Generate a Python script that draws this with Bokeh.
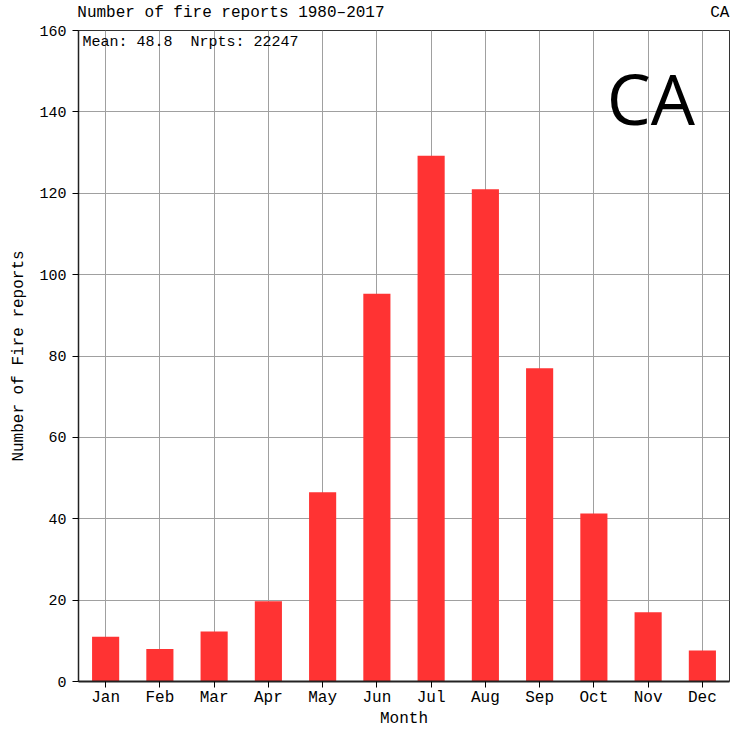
from bokeh.plotting import figure
from bokeh.models import Label, FixedTicker, Range1d, LinearAxis
from bokeh.embed import file_html
from bokeh.resources import INLINE

months = ["Jan", "Feb", "Mar", "Apr", "May", "Jun", "Jul", "Aug", "Sep", "Oct", "Nov", "Dec"]
month_num = [1, 2, 3, 4, 5, 6, 7, 8, 9, 10, 11, 12]
reports = [11.0, 8.0, 12.3, 19.7, 46.5, 95.3, 129.2, 121.0, 77.0, 41.3, 17.0, 7.6]
y_ticks = [0, 20, 40, 60, 80, 100, 120, 140, 160]

title_text = "Number of fire reports 1980\u20132017"
stats_text = "Mean: 48.8\u00a0\u00a0Nrpts: 22247"
region = "CA"

FONT = "Liberation Mono"

p = figure(width=730, height=730, output_backend="svg", toolbar_location=None,
           x_range=Range1d(0.5, 12.5), y_range=Range1d(0, 160),
           min_border_left=78, min_border_right=1, min_border_top=30, min_border_bottom=48)

p.vbar(x=month_num, top=reports, width=0.5, bottom=0, fill_color="#ff3333", line_color=None)

p.xaxis.ticker = FixedTicker(ticks=month_num)
p.xaxis.major_label_overrides = {m: n for m, n in zip(month_num, months)}
p.yaxis.ticker = FixedTicker(ticks=y_ticks)
p.xaxis.minor_tick_line_color = None
p.yaxis.minor_tick_line_color = None

for ax in (p.xaxis, p.yaxis):
    ax.major_label_text_font = FONT
    ax.major_label_text_color = "black"
    ax.axis_label_text_font = FONT
    ax.axis_label_text_font_size = "16px"
    ax.axis_label_text_font_style = "normal"
    ax.axis_label_text_color = "black"
    ax.major_tick_in = 0
    ax.major_tick_out = 6
    ax.major_tick_line_color = "black"

p.xaxis.major_label_text_font_size = "16px"
p.yaxis.major_label_text_font_size = "15px"
p.xaxis.axis_label = "Month"
p.yaxis.axis_label = "Number of Fire reports"
p.xaxis.axis_line_width = 2
p.xaxis.axis_line_color = "#222222"
p.yaxis.axis_line_color = "#222222"
p.yaxis.axis_line_width = 1.5
p.xaxis.major_label_standoff = 1
p.xaxis.axis_label_standoff = 0
p.yaxis.major_label_standoff = 6
p.yaxis.axis_label_standoff = 8

# Top header: title (left) and region code (right) as labels of a tickless top axis
header_pos = [3.31, 12.32]
header_text = [title_text, region]
top = LinearAxis(ticker=FixedTicker(ticks=header_pos),
                 major_label_overrides={pos: t for pos, t in zip(header_pos, header_text)},
                 axis_line_color=None, major_tick_line_color=None, minor_tick_line_color=None,
                 major_label_text_font=FONT, major_label_text_font_size="16px",
                 major_label_text_color="black", major_label_standoff=3)
p.add_layout(top, "above")

p.xgrid.grid_line_color = "#a0a0a0"
p.ygrid.grid_line_color = "#a0a0a0"
p.xgrid.grid_line_width = 1
p.ygrid.grid_line_width = 1

p.outline_line_color = "#333333"
p.outline_line_width = 1
p.background_fill_color = "white"
p.border_fill_color = "white"

p.add_layout(Label(x=0.5, y=160, x_offset=4, y_offset=-3, text=stats_text,
                   text_font=FONT, text_font_size="15px", text_baseline="top",
                   text_align="left", text_color="black"))
p.add_layout(Label(x=11.05, y=143.5, text=region, text_font="Open Sans",
                   text_font_size="70px", text_baseline="middle",
                   text_align="center", text_color="black"))

open("out.html", "w").write(file_html(p, INLINE))
